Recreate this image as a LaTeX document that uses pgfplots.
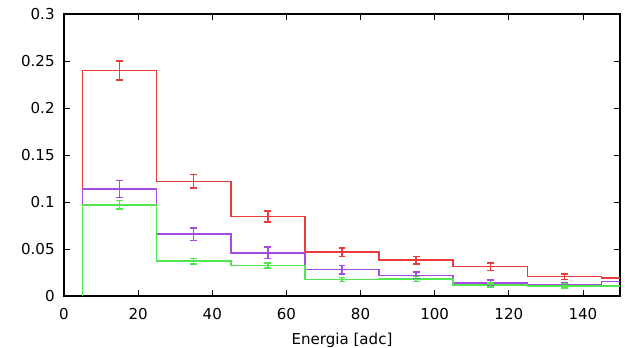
\documentclass[border=0pt]{standalone}
\usepackage{pgfplots}
\pgfplotsset{compat=1.18}
\usepackage{fontspec}
\setmainfont{DejaVu Sans}
\definecolor{cred}{RGB}{235,60,60}
\definecolor{cpur}{RGB}{165,75,225}
\definecolor{cgrn}{RGB}{80,230,80}
\newcommand\ff{\fontsize{11.3pt}{13pt}\selectfont}
\begin{document}
\begin{tikzpicture}
\begin{axis}[
  scale only axis,
  width=417pt, height=211.5pt,
  xmin=0, xmax=150, ymin=0, ymax=0.3,
  xtick={0,20,...,140},
  ytick={0,0.05,0.1,0.15,0.2,0.25,0.3},
  yticklabels={0,0.05,0.1,0.15,0.2,0.25,0.3},
  /pgf/number format/assume math mode=true,
  tick label style={font=\ff},
  xticklabel style={yshift=-6pt},
  yticklabel style={xshift=-3.5pt},
  label style={font=\ff},
  xlabel={Energia [adc]},
  xlabel style={yshift=-3pt},
  major tick length=4.5pt,
  tick style={black, line width=0.6pt},
  axis line style={black, line width=0.8pt},
  tick align=inside,
]
% histograms
\addplot[cred, line width=1.2pt, const plot mark left] coordinates {
(5,0) (5,0.240) (25,0.122) (45,0.0845) (65,0.0465) (85,0.038) (105,0.0315) (125,0.0206) (145,0.0192) (165,0.0192)};
\addplot[cpur, line width=1.2pt, const plot mark left] coordinates {
(5,0) (5,0.114) (25,0.0657) (45,0.046) (65,0.0284) (85,0.022) (105,0.0138) (125,0.0117) (145,0.0156) (165,0.0156)};
\addplot[cgrn, line width=1.2pt, const plot mark left] coordinates {
(5,0) (5,0.097) (25,0.037) (45,0.0323) (65,0.0174) (85,0.018) (105,0.0117) (125,0.0107) (145,0.0107) (165,0.0107)};
% error bars
\addplot[cred, draw=none, mark=none, error bars/.cd, y dir=both, y explicit, error bar style={cred, line width=1.1pt}, error mark options={rotate=90, cred, mark size=2.6pt, line width=1.1pt}] coordinates {
(15,0.240) +- (0,0.010)
(35,0.122) +- (0,0.007)
(55,0.0845) +- (0,0.006)
(75,0.0465) +- (0,0.0045)
(95,0.038) +- (0,0.004)
(115,0.031) +- (0,0.004)
(135,0.0205) +- (0,0.003)};
\addplot[cpur, draw=none, mark=none, error bars/.cd, y dir=both, y explicit, error bar style={cpur, line width=1.1pt}, error mark options={rotate=90, cpur, mark size=2.6pt, line width=1.1pt}] coordinates {
(15,0.114) +- (0,0.009)
(35,0.0657) +- (0,0.0065)
(55,0.046) +- (0,0.006)
(75,0.028) +- (0,0.0045)
(95,0.022) +- (0,0.0035)
(115,0.0138) +- (0,0.003)
(135,0.0117) +- (0,0.0025)};
\addplot[cgrn, draw=none, mark=none, error bars/.cd, y dir=both, y explicit, error bar style={cgrn, line width=1.1pt}, error mark options={rotate=90, cgrn, mark size=2.6pt, line width=1.1pt}] coordinates {
(15,0.097) +- (0,0.0045)
(35,0.037) +- (0,0.003)
(55,0.0323) +- (0,0.0027)
(75,0.0174) +- (0,0.002)
(95,0.018) +- (0,0.0027)
(115,0.0117) +- (0,0.002)
(135,0.0107) +- (0,0.0024)};
\end{axis}
\pgfresetboundingbox
\path (-48pt,-38.25pt) rectangle (420.75pt,222pt);
\end{tikzpicture}
\end{document}
